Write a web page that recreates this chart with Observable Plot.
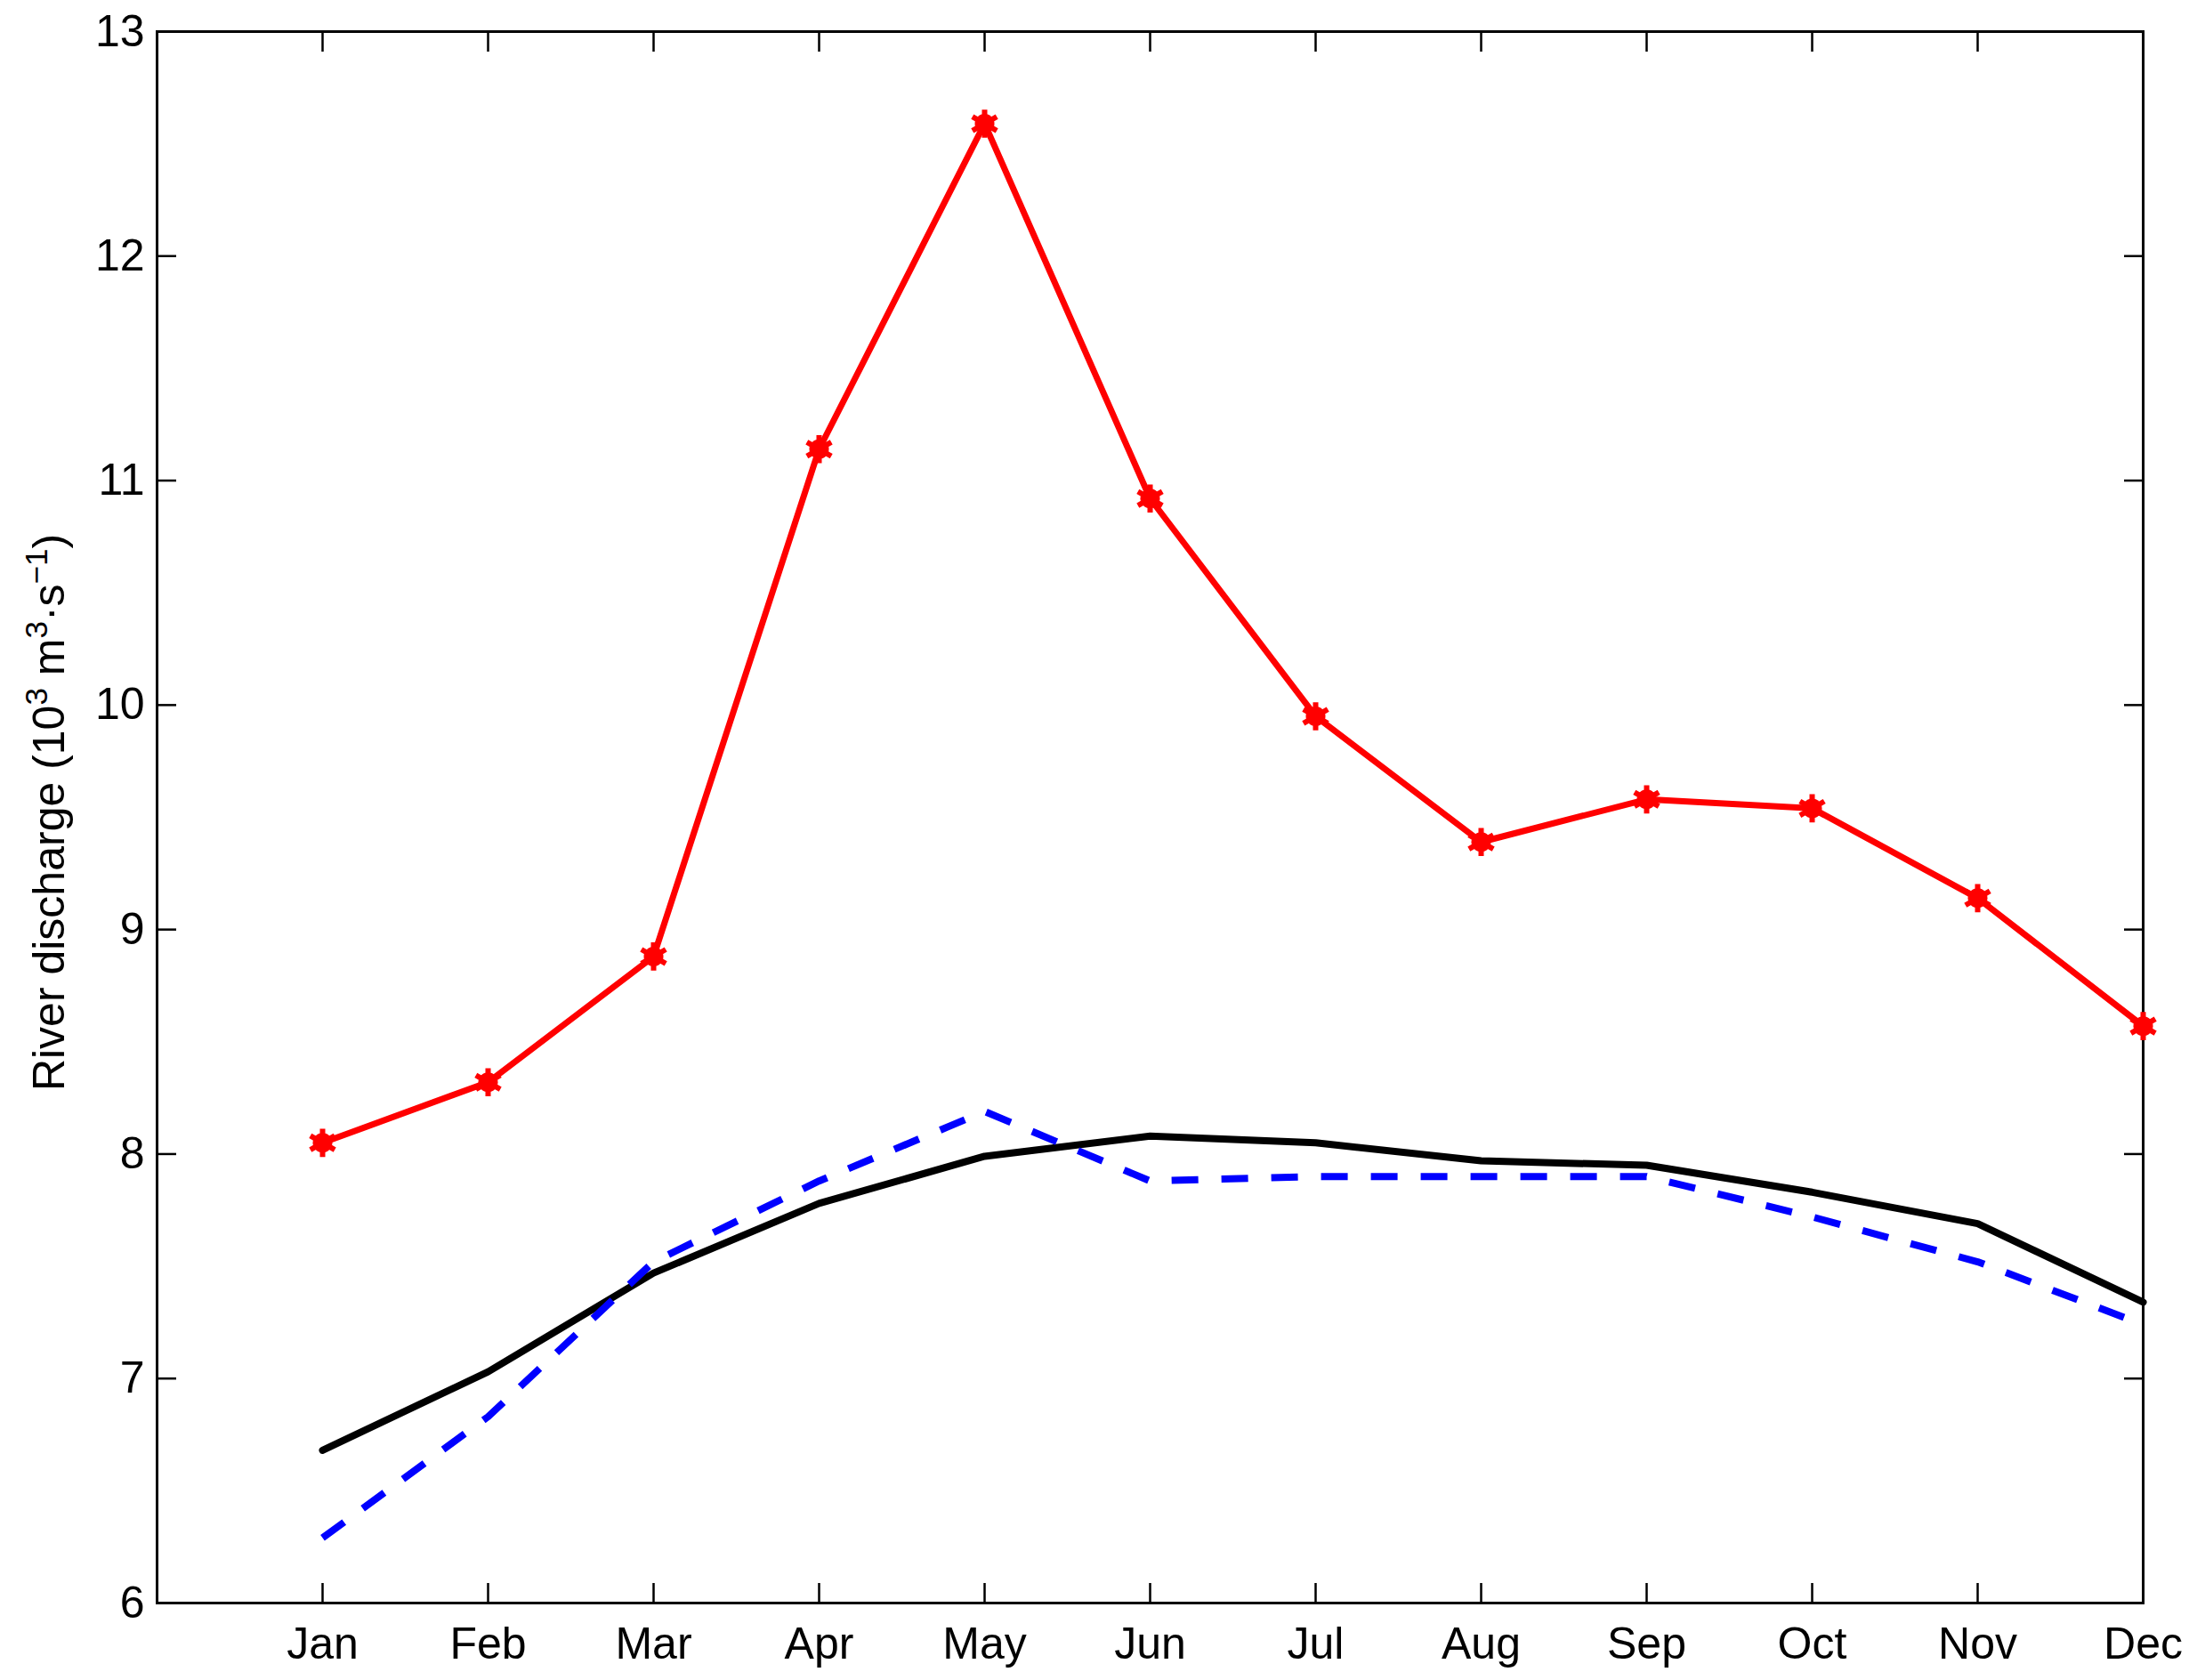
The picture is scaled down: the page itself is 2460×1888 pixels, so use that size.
<!DOCTYPE html>
<html>
<head>
<meta charset="utf-8">
<script src="https://cdn.jsdelivr.net/npm/d3@7"></script>
<script src="https://cdn.jsdelivr.net/npm/@observablehq/plot@0.6"></script>
<style>
  html, body { margin: 0; padding: 0; background: #fff; }
  #chart { width: 2460px; height: 1888px; }
  svg { font-family: "Liberation Sans", Arial, sans-serif; }
</style>
</head>
<body>
<div id="chart"></div>
<script>
const months = ["Jan","Feb","Mar","Apr","May","Jun","Jul","Aug","Sep","Oct","Nov","Dec"];
const redSeries   = [8.05, 8.32, 8.88, 11.14, 12.59, 10.92, 9.95, 9.39, 9.58, 9.54, 9.14, 8.57];
const blackSeries = [6.68, 7.03, 7.47, 7.78, 7.99, 8.08, 8.05, 7.97, 7.95, 7.83, 7.69, 7.34];
const blueSeries  = [6.29, 6.83, 7.52, 7.88, 8.19, 7.88, 7.90, 7.90, 7.90, 7.72, 7.52, 7.24];
const yTicks = [6, 7, 8, 9, 10, 11, 12, 13];

const toRows = (vals) => vals.map((v, i) => ({m: i + 1, v}));
const red = toRows(redSeries), black = toRows(blackSeries), blue = toRows(blueSeries);
const monthPos = months.map((_, i) => i + 1);

const W = 2460, H = 1888;
const FS = 50;

const chart = Plot.plot({
  width: W,
  height: H,
  marginLeft: 176,
  marginRight: 52,
  marginTop: 35,
  marginBottom: 87,
  style: {fontFamily: "Liberation Sans, Arial, sans-serif", fontSize: FS + "px", color: "black", background: "white"},
  x: {domain: [0, 12], label: null},
  y: {domain: [6, 13], label: null},
  marks: [
    Plot.frame({stroke: "black", strokeWidth: 3}),
    // inward tick marks
    Plot.axisX(monthPos, {anchor: "bottom", tickSize: -22, strokeWidth: 2.5, text: null}),
    Plot.axisX(monthPos, {anchor: "top", tickSize: -22, strokeWidth: 2.5, text: null}),
    Plot.axisY(yTicks, {anchor: "left", tickSize: -22, strokeWidth: 2.5, text: null}),
    Plot.axisY(yTicks, {anchor: "right", tickSize: -22, strokeWidth: 2.5, text: null}),
    // tick labels
    Plot.axisX(monthPos, {anchor: "bottom", tickSize: 0, tickPadding: 27, tickFormat: (d) => months[d - 1], fontSize: FS}),
    Plot.axisY(yTicks, {anchor: "left", tickSize: 0, tickPadding: 14, tickFormat: d3.format("d"), fontSize: FS}),
    // series
    Plot.line(black, {x: "m", y: "v", stroke: "black", strokeWidth: 8}),
    Plot.line(blue, {x: "m", y: "v", stroke: "#0000ff", strokeWidth: 8, strokeDasharray: "30,26", strokeLinecap: "butt"}),
    Plot.line(red, {x: "m", y: "v", stroke: "#ff0000", strokeWidth: 7}),
    Plot.dot(red, {x: "m", y: "v", r: 11, fill: "#ff0000", stroke: "none"}),
    Plot.dot(red, {x: "m", y: "v", r: 15, symbol: "asterisk", stroke: "#ff0000", strokeWidth: 6})
  ]
});

document.getElementById("chart").appendChild(chart);

// y-axis label with superscripts
const svg = d3.select(chart);
const cy = (35 + (H - 87)) / 2 - 5;
const t = svg.append("text")
  .attr("transform", `translate(72,${cy}) rotate(-90)`)
  .attr("text-anchor", "middle")
  .attr("font-family", "Liberation Sans, Arial, sans-serif")
  .attr("font-size", FS)
  .attr("fill", "black");
t.append("tspan").text("River discharge (10");
t.append("tspan").attr("baseline-shift", "super").attr("font-size", FS * 0.7).text("3");
t.append("tspan").text(" m");
t.append("tspan").attr("baseline-shift", "super").attr("font-size", FS * 0.7).text("3");
t.append("tspan").text("·s");
t.append("tspan").attr("baseline-shift", "super").attr("font-size", FS * 0.7).text("−1");
t.append("tspan").text(")");
</script>
</body>
</html>
